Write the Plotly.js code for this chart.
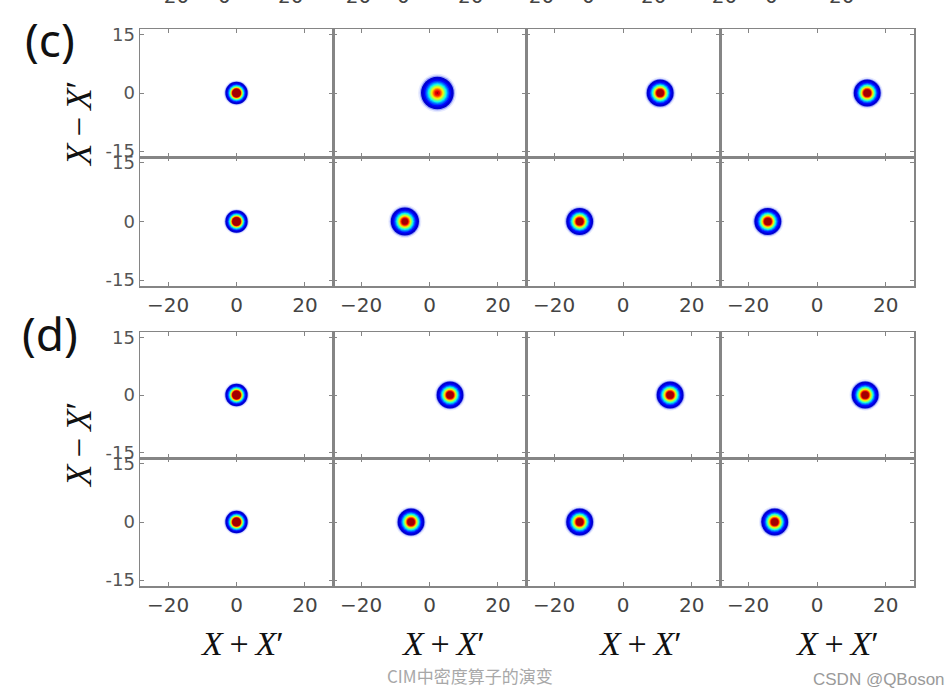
<!DOCTYPE html>
<html><head><meta charset="utf-8">
<script src="https://cdn.plot.ly/plotly-3.0.1.min.js"></script>
<style>html,body{margin:0;padding:0;background:#fff}#chart{width:952px;height:697px}</style>
</head><body><div id="chart"></div>
<script>
// ---- tick labels ----
const xTickVals = [-20, 0, 20];
const xTickText = ['\u221220', '0', '20'];
const yTickVals = [15, 0, -15];
const yTickText = ['15', '0', '-15'];
const xRange = [-28.2, 28.2];
const yRange = [-16.5, 16.5];

// ---- blob centres (X+X') per row of subplots ----
const cTopX = [0, 2.3, 10.8, 14.6];
const cBotX = [0, -7.2, -12.6, -14.3];
const dTopX = [0, 6.0, 13.7, 14.0];
const dBotX = [0, -5.4, -12.6, -12.3];
const blobY = [0, 0, 0, 0];
// blob widths (sigma, in X+X' units) and peak heights
const cTopW = [1.2, 1.9, 1.5, 1.5];
const cBotW = [1.2, 1.6, 1.5, 1.5];
const dTopW = [1.2, 1.5, 1.5, 1.5];
const dBotW = [1.2, 1.5, 1.5, 1.5];
const cTopA = [1.6, 0.95, 1.2, 1.2];
const cBotA = [1.6, 1.1, 1.2, 1.2];
const dTopA = [1.6, 1.2, 1.2, 1.2];
const dBotA = [1.6, 1.2, 1.2, 1.2];

// labels
const panelLabels = ['(c)', '(d)'];
const xTitle = '<i>X</i>\u2009+\u2009<i>X</i>\u2032';
const yTitle = '<i>X</i>\u2009\u2212\u2009<i>X</i>\u2032';
const topCutText = ['\u221220','0','20','\u221220','0','20','\u221220','0','20','\u221220','0','20'];

// ---- geometry ----
const W = 952, H = 697;
const colEdges = [140, 333, 526, 720, 914];
const rowEdges = [[29,157],[157,286],[332,458],[458,586]];
const rowX = [cTopX, cBotX, dTopX, dBotX];
const rowW = [cTopW, cBotW, dTopW, dBotW];
const rowA = [cTopA, cBotA, dTopA, dBotA];

// jet colormap (matplotlib)
function interp(pts, v){
  for(let i=1;i<pts.length;i++){
    if(v<=pts[i][0]){const [x0,y0]=pts[i-1],[x1,y1]=pts[i];return y0+(y1-y0)*(v-x0)/(x1-x0);}
  }
  return pts[pts.length-1][1];
}
function jet(v){
  v=Math.max(0,Math.min(1,v));
  const r=interp([[0,0],[0.35,0],[0.66,1],[0.89,1],[1,0.5]],v);
  const g=interp([[0,0],[0.125,0],[0.375,1],[0.64,1],[0.91,0],[1,0]],v);
  const b=interp([[0,0.5],[0.11,1],[0.34,1],[0.65,0],[1,0]],v);
  return 'rgb('+Math.round(r*255)+','+Math.round(g*255)+','+Math.round(b*255)+')';
}
const levels=[0.04,0.1,0.16,0.22,0.28,0.34,0.40,0.46,0.52,0.58,0.64,0.70,0.76,0.82,0.88,0.94];

const frame='#858585';
const layout={width:W,height:H,margin:{l:0,r:0,t:0,b:0},showlegend:false,
  paper_bgcolor:'#fff',plot_bgcolor:'#fff',annotations:[],hovermode:false};
const traces=[];
let n=0;
for(let r=0;r<4;r++){
  for(let c=0;c<4;c++){
    n++;
    const sfx = n===1?'':String(n);
    const xa='xaxis'+sfx, ya='yaxis'+sfx;
    const colW = colEdges[c+1]-colEdges[c];
    layout[xa]={domain:[colEdges[c]/W,colEdges[c+1]/W],range:xRange,anchor:'y'+sfx,
      tickmode:'array',tickvals:xTickVals,ticktext:xTickText,showticklabels:(r===1||r===3),
      ticks:'inside',ticklen:4,tickwidth:1,tickcolor:frame,showline:true,linecolor:frame,linewidth:1.5,
      mirror:'ticks',showgrid:false,zeroline:false,fixedrange:true,
      tickfont:{family:'DejaVu Sans',size:20,color:'#444'}};
    layout[ya]={domain:[1-rowEdges[r][1]/H,1-rowEdges[r][0]/H],range:yRange,anchor:'x'+sfx,
      tickmode:'array',tickvals:yTickVals,ticktext:yTickText,showticklabels:(c===0),
      ticks:'inside',ticklen:4,tickwidth:1,tickcolor:frame,showline:true,linecolor:frame,linewidth:1.5,
      mirror:'ticks',showgrid:false,zeroline:false,fixedrange:true,
      tickfont:{family:'DejaVu Sans',size:18,color:'#555'}};
    // blob as concentric level rings
    const pxPerUnit = colW/(xRange[1]-xRange[0]);
    const s = rowW[r][c]*pxPerUnit, A=rowA[r][c];
    const sizes=[], colors=[];
    // faint halos (soft edge)
    sizes.push(2*s*Math.sqrt(2*Math.log(A/0.012))); colors.push('rgba(60,90,255,0.12)');
    sizes.push(2*s*Math.sqrt(2*Math.log(A/0.025))); colors.push('rgba(30,50,235,0.35)');
    for(let k=0;k<levels.length;k++){
      const t=levels[k];
      if(t>=A) break;
      sizes.push(2*s*Math.sqrt(2*Math.log(A/t)));
      colors.push(jet(Math.min(1,t+0.03)));
    }
    traces.push({type:'scatter',mode:'markers',xaxis:'x'+sfx,yaxis:'y'+sfx,
      x:sizes.map(()=>rowX[r][c]),y:sizes.map(()=>blobY[c]),
      marker:{size:sizes,color:colors,line:{width:0},opacity:1},hoverinfo:'skip',cliponaxis:true});
  }
}
function ann(text,px,py,opt){
  layout.annotations.push(Object.assign({text:text,xref:'paper',yref:'paper',x:px/W,y:1-py/H,
    showarrow:false,xanchor:'center',yanchor:'middle'},opt||{}));
}
// panel labels
ann(panelLabels[0],50,39,{font:{family:'Noto Sans',size:46,color:'#111'}});
ann(panelLabels[1],50,333,{font:{family:'Noto Sans',size:46,color:'#111'}});
// y titles
ann(yTitle,79,124,{textangle:-90,font:{family:'Liberation Serif',size:35,color:'#111'}});
ann(yTitle,79,445,{textangle:-90,font:{family:'Liberation Serif',size:35,color:'#111'}});
// x titles
[242,443,640,837].forEach(px=>ann(xTitle,px,643,{font:{family:'Liberation Serif',size:34,color:'#111'}}));
// cut-off tick labels from previous panel at top
[168,224,290,350,403,470,533,588,653,716,771,841].forEach((px,i)=>ann(topCutText[i],px,-4,{font:{family:'DejaVu Sans',size:20,color:'#444'}}));
// watermarks
ann('CIM中密度算子的演变',470,675,{font:{family:'Noto Sans CJK SC',size:17,color:'#a8a8a8'}});
ann('CSDN @QBoson',947,679,{xanchor:'right',font:{family:'Liberation Sans',size:17,color:'#9a9a9a'}});

Plotly.newPlot('chart',traces,layout,{staticPlot:true,displayModeBar:false});
</script></body></html>
